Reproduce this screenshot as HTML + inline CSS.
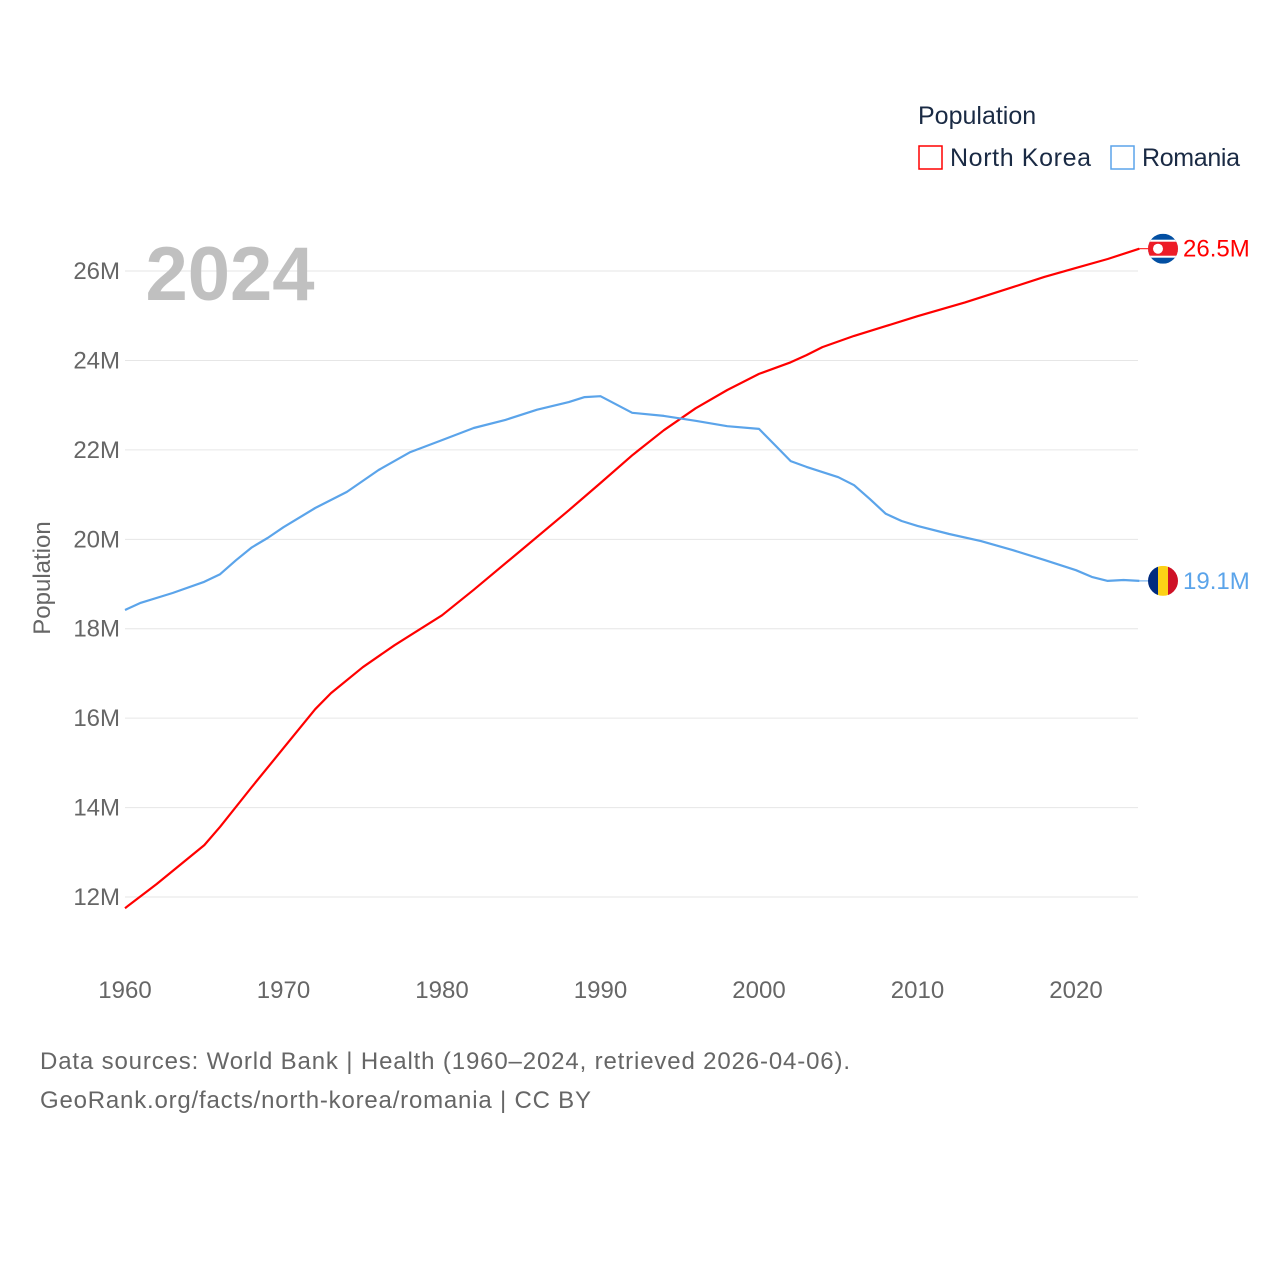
<!DOCTYPE html>
<html><head><meta charset="utf-8">
<style>
body{margin:0;background:#fff;font-family:"Liberation Sans",sans-serif;}
svg{display:block}
text{font-family:"Liberation Sans",sans-serif}
</style></head>
<body>
<svg id="chart" width="1280" height="1280" viewBox="0 0 1280 1280">
<g id="grid"></g>
<g id="yticks"></g>
<g id="xticks"></g>
<text x="230" y="300" font-size="76" font-weight="bold" fill="#c0c0c0" text-anchor="middle">2024</text>
<text transform="translate(50,578) rotate(-90)" font-size="24" fill="#666" text-anchor="middle">Population</text>
<g id="series"></g>
<g>
<text x="918" y="124" font-size="25" fill="#1a2a44">Population</text>
<g><rect x="919" y="146" width="23" height="23" fill="none" stroke="#ff0000" stroke-width="1.5"/><text x="950" y="166" font-size="25" fill="#1a2a44" textLength="141">North Korea</text></g>
<g><rect x="1111" y="146" width="23" height="23" fill="none" stroke="#5ba4ea" stroke-width="1.5"/><text x="1142" y="166" font-size="25" fill="#1a2a44" textLength="98">Romania</text></g>
</g>
<text x="40" y="1069" font-size="24" fill="#666" textLength="810">Data sources: World Bank | Health (1960–2024, retrieved 2026-04-06).</text>
<text x="40" y="1108" font-size="24" fill="#666" textLength="551">GeoRank.org/facts/north-korea/romania | CC BY</text>
</svg>
<script>
const yTickValues=[12,14,16,18,20,22,24,26];
const xTickValues=[1960,1970,1980,1990,2000,2010,2020];
const nkYears=[1960,1962,1965,1966,1968,1970,1972,1973,1975,1977,1980,1982,1985,1988,1990,1992,1994,1996,1998,2000,2002,2003,2004,2006,2008,2010,2013,2016,2018,2020,2022,2024];
const nkValues=[11.75,12.29,13.16,13.57,14.46,15.33,16.2,16.56,17.14,17.63,18.3,18.87,19.76,20.65,21.26,21.88,22.44,22.93,23.34,23.7,23.96,24.12,24.3,24.55,24.77,24.99,25.3,25.64,25.87,26.07,26.27,26.5];
const roYears=[1960,1961,1963,1965,1966,1967,1968,1969,1970,1972,1974,1976,1978,1980,1982,1984,1986,1988,1989,1990,1992,1994,1996,1998,2000,2001,2002,2003,2005,2006,2007,2008,2009,2010,2012,2014,2016,2018,2020,2021,2022,2023,2024];
const roValues=[18.42,18.58,18.8,19.05,19.22,19.53,19.82,20.03,20.27,20.7,21.06,21.55,21.95,22.22,22.49,22.67,22.9,23.07,23.18,23.2,22.83,22.76,22.65,22.53,22.47,22.11,21.75,21.62,21.39,21.21,20.9,20.57,20.41,20.3,20.12,19.96,19.76,19.54,19.31,19.16,19.07,19.09,19.07];
const x=yr=>125+(yr-1960)*15.85;
const y=v=>897-(v-12)*44.71;
const NS="http://www.w3.org/2000/svg";
function mk(tag,attrs,parent){const e=document.createElementNS(NS,tag);for(const k in attrs)e.setAttribute(k,attrs[k]);parent.appendChild(e);return e;}
const grid=document.getElementById('grid'),yt=document.getElementById('yticks'),xt=document.getElementById('xticks'),ser=document.getElementById('series');
yTickValues.forEach(v=>{
 const l=mk('line',{x1:125,x2:1138,y1:y(v),y2:y(v),stroke:'#e6e6e6','stroke-width':1},grid);
 
 
 const t=mk('text',{x:120,y:y(v)+8,'font-size':24,fill:'#666','text-anchor':'end'},yt);
 t.textContent=v+'M';
 
 
});
xTickValues.forEach(v=>{
 const t=mk('text',{x:x(v),y:998,'font-size':24,fill:'#666','text-anchor':'middle'},xt);
 t.textContent=v;
 
 
});
function line(years,vals,color,name){
 const d=years.map((yr,i)=>(i?'L':'M')+x(yr).toFixed(1)+','+y(vals[i]).toFixed(1)).join('');
 const p=mk('path',{d:d,fill:'none',stroke:color,'stroke-width':2.2,'stroke-linejoin':'round'},ser);
 
 
}
line(nkYears,nkValues,'#ff0000','north-korea-line');
line(roYears,roValues,'#5ba4ea','romania-line');
const nkEnd=nkValues[nkValues.length-1],roEnd=roValues[roValues.length-1];
const nkX=x(nkYears[nkYears.length-1]),roX=x(roYears[roYears.length-1]);
mk('line',{x1:nkX,x2:1150,y1:y(nkEnd),y2:y(nkEnd),stroke:'#ff0000','stroke-width':1},ser);
mk('line',{x1:roX,x2:1150,y1:y(roEnd),y2:y(roEnd),stroke:'#5ba4ea','stroke-width':1},ser);
const nkG=mk('g',{},ser);


const cy1=y(nkEnd);
mk('clipPath',{id:'c1'},nkG);
mk('circle',{cx:1163,cy:cy1,r:15},nkG.lastChild);
const g1=mk('g',{'clip-path':'url(#c1)'},nkG);
mk('rect',{x:1148,y:cy1-15,width:30,height:30,fill:'#024fa2'},g1);
mk('rect',{x:1148,y:cy1-9,width:30,height:18,fill:'#fff'},g1);
mk('rect',{x:1148,y:cy1-7,width:30,height:14,fill:'#ed1c27'},g1);
mk('circle',{cx:1158,cy:cy1,r:5,fill:'#fff'},g1);
const nkLbl=mk('text',{x:1183,y:cy1+8,'font-size':24,fill:'#ff0000'},ser);
nkLbl.textContent=nkEnd.toFixed(1)+'M';


const roG=mk('g',{},ser);


const cy2=y(roEnd);
mk('clipPath',{id:'c2'},roG);
mk('circle',{cx:1163,cy:cy2,r:15},roG.lastChild);
const g2=mk('g',{'clip-path':'url(#c2)'},roG);
mk('rect',{x:1148,y:cy2-15,width:10,height:30,fill:'#002b7f'},g2);
mk('rect',{x:1158,y:cy2-15,width:10,height:30,fill:'#fcd116'},g2);
mk('rect',{x:1168,y:cy2-15,width:10,height:30,fill:'#ce1126'},g2);
const roLbl=mk('text',{x:1183,y:cy2+8,'font-size':24,fill:'#5ba4ea'},ser);
roLbl.textContent=roEnd.toFixed(1)+'M';


</script>
</body></html>
